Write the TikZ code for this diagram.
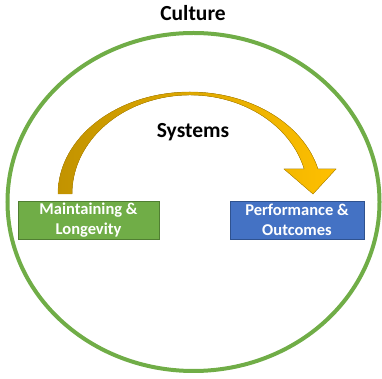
\documentclass[tikz,border=0pt]{standalone}
\usepackage{fontspec}
\setmainfont{Carlito}
\usetikzlibrary{positioning}

\definecolor{cultureGreen}{HTML}{70AD47}
\definecolor{boxGreenLine}{HTML}{507E32}
\definecolor{boxBlue}{HTML}{4472C4}
\definecolor{boxBlueLine}{HTML}{2F528F}
\definecolor{arrowDark}{HTML}{C29300}
\definecolor{arrowLight}{HTML}{FFC000}
\definecolor{arrowLine}{HTML}{BF9000}

\tikzset{
  stageBox/.style={rectangle, draw, line width=0.8pt, text=white, font=\fontsize{16.5}{20}\selectfont\bfseries, align=center, inner sep=0pt},
  titleText/.style={font=\fontsize{21.5}{24}\selectfont\bfseries}
}

\begin{document}
\begin{tikzpicture}[x=1pt, y=1pt]
        \useasboundingbox (0,0) rectangle (382,379);

        \draw[cultureGreen, line width=4pt] (193.5,177) ellipse [x radius=186, y radius=169];
        \node[titleText] (culture) at (193,366) {Culture};

        \coordinate (arcCenter) at (190,185);
        \fill[left color=arrowDark, right color=arrowLight, draw=arrowLine, line width=0.4pt]
          (58,185) arc[start angle=180, end angle=14.2, x radius=132, y radius=102]
          -- (336,210) -- (313,185) coordinate (tip) -- (284,210) -- (304.2,210)
          arc[start angle=14.63, end angle=180, x radius=118, y radius=99] -- cycle;

        \node[titleText] (systems) at (193,247) {Systems};

        \node[stageBox, fill=cultureGreen, draw=boxGreenLine, minimum width=141pt, minimum height=38pt] (maintain) at (88.5,159) {Maintaining \&\\Longevity};
        \node[stageBox, fill=boxBlue, draw=boxBlueLine, minimum width=134pt, minimum height=38pt] (perform) at (297,159) {Performance \&\\Outcomes};
      \end{tikzpicture}
\end{document}
